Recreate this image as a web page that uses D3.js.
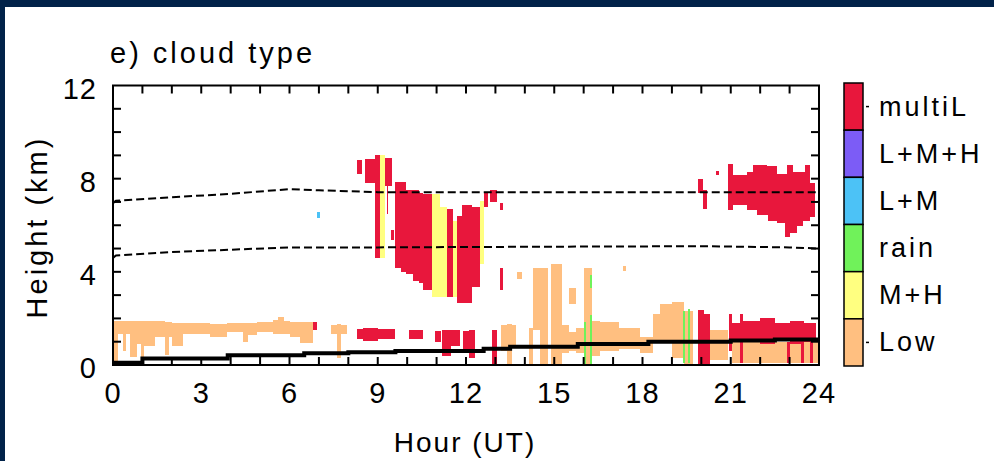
<!DOCTYPE html>
<html>
<head>
<meta charset="utf-8">
<script src="https://cdn.jsdelivr.net/npm/d3@7"></script>
<style>
  html, body { margin: 0; padding: 0; background: #012249; }
  svg { display: block; }
  text { font-family: "Liberation Sans", Arial, sans-serif; fill: #000; }
</style>
</head>
<body>
<svg id="chart" width="994" height="461"></svg>
<script>
// ---- cloud classes (legend order, top to bottom) ----
const classNames  = ["multiL", "L+M+H", "L+M", "rain", "M+H", "Low"];
const classColors = ["#e8173c", "#7c5cf6", "#4cc2f6", "#70f25a", "#ffff80", "#ffbf80"];

// ---- axis ticks ----
const hourLabels   = [0, 3, 6, 9, 12, 15, 18, 21, 24];
const heightLabels = [0, 4, 8, 12];

// ---- cloud patches: columns [hour, base km, top km]; final [hour] closes the patch ----
const lowPatches = [
  [[0,0.1,1.9],[0.17,1.35,1.9],[0.35,0.6,1.9],[0.45,1.35,1.9],[0.58,0.35,1.9],[0.8,0.9,1.9],
   [0.95,0.3,1.9],[1.05,0.8,1.9],[1.43,1.2,1.9],[1.77,0.45,1.85],[1.9,1.2,1.85],[2.0,0.8,1.8],
   [2.38,1.35,1.8],[3.3,1.2,1.75],[3.87,1.4,1.8],[4.42,1.0,1.8],[4.6,1.3,1.8],[4.9,1.4,1.85],
   [5.44,1.35,1.95],[5.6,1.35,2.05],[5.8,1.35,1.9],[6.0,1.2,1.85],[6.36,0.95,1.85],[6.8]],
  [[7.4,1.35,1.7],[7.62,0.3,1.75],[7.75,1.35,1.7],[7.95]],
  [[13.2,0.6,1.7],[13.4,0.0,1.75],[13.55,0.8,1.7],[13.7]],
  [[13.75,3.7,4.0],[13.9]],
  [[14.15,0.0,1.6],[14.28,1.5,4.15],[14.52,0.0,4.15],[14.8]],
  [[14.88,0.0,4.35],[15.27,0.5,1.7],[15.5,0.6,1.4],[15.75,0.5,1.6],[16.0,0.0,4.15],
   [16.3,0.4,1.9],[16.55,0.6,1.85],[17.2,0.7,1.6],[17.9,0.5,1.2],[18.35,1.0,2.2],
   [18.6,1.0,2.6],[19.0,0.3,2.7],[19.4,0.0,2.3],[19.7]],
  [[15.5,2.6,3.3],[15.75]],
  [[17.35,4.05,4.25],[17.45]],
  [[20.3,0.2,1.5],[20.9]],
  [[21.05,0.1,1.0],[23.95]]
];

const mhPatches = [
  [[9.07,4.6,9.0],[9.25]],
  [[10.85,2.9,7.35],[11.1,2.9,6.8],[11.35]],
  [[11.55,2.9,6.2],[11.7]],
  [[12.48,4.35,7.05],[12.6]]
];

const rainPatches = [
  [[16.0,0.0,1.85],[16.07]],
  [[16.2,0.0,2.15],[16.3]],
  [[16.2,3.3,3.85],[16.3]],
  [[19.37,0.1,2.3],[19.45]],
  [[19.55,0.1,2.4],[19.63]]
];

const lmPatches = [
  [[6.95,6.3,6.55],[7.05]]
];

const multiPatches = [
  // low-level layer, 7-13 UT
  [[6.8,1.5,1.85],[6.92]],
  [[8.3,1.1,1.55],[8.5,1.05,1.6],[9.0,1.1,1.55],[9.6]],
  [[10.05,1.1,1.5],[10.55]],
  [[10.95,1.0,1.45],[11.15]],
  [[11.2,0.4,1.5],[11.5,0.8,1.5],[11.8]],
  [[11.9,0.6,1.45],[12.1,0.3,1.5],[12.3]],
  [[12.9,0.0,1.5],[13.05]],
  [[13.15,3.2,4.15],[13.25]],
  // deep system, 8-13 UT
  [[8.3,8.2,8.8],[8.45]],
  [[8.55,7.8,8.85],[8.9,4.6,9.0],[9.07]],
  [[9.25,7.7,8.9],[9.3,6.5,8.9],[9.35,7.7,8.9],[9.5]],
  [[9.45,5.35,5.8],[9.55]],
  [[9.6,4.15,7.85],[9.8,4.0,7.85],[9.95,3.9,7.5],[10.2,3.6,7.5],[10.4,3.5,7.4],[10.55,3.2,7.35],[10.85]],
  [[11.35,2.9,6.7],[11.55]],
  [[11.7,2.65,6.4],[11.85,2.65,6.85],[12.2,3.35,6.8],[12.48]],
  [[12.6,6.8,7.4],[12.75]],
  [[12.8,7.0,7.5],[13.05]],
  [[13.15,6.65,6.95],[13.25]],
  // low-level layer, 20-24 UT
  [[19.9,0.0,2.35],[20.1,0.0,2.2],[20.3]],
  [[20.95,0.6,2.2],[21.05]],
  [[21.05,1.0,1.8],[21.3,0.9,1.9],[21.4,1.0,1.9],[22.0,0.9,2.0],[22.5,1.1,1.8],[23.0,0.9,1.9],[23.5,1.0,1.8],[23.9]],
  [[21.3,0.1,2.2],[21.4]],
  [[22.9,0.1,1.0],[23.0]],
  [[23.4,0.1,1.0],[23.5]],
  [[23.7,0.1,1.0],[23.8]],
  // upper layer, 20-24 UT
  [[19.9,7.4,8.0],[20.05,6.7,7.5],[20.2]],
  [[20.5,8.15,8.35],[20.6]],
  [[20.92,6.65,8.65],[21.08,6.85,8.15],[21.54,6.65,8.3],[21.71,6.65,8.3],[21.76,6.65,8.6],
   [21.88,6.45,8.6],[22.22,6.45,8.55],[22.27,6.2,8.55],[22.56,6.1,8.2],[22.84,5.5,8.2],
   [22.9,5.5,8.6],[23.01,5.65,8.6],[23.12,5.65,8.3],[23.24,5.95,8.3],[23.46,6.2,8.3],
   [23.52,6.2,8.6],[23.69,6.35,7.8],[23.86]]
];

// ---- dashed reference levels and thick surface-layer line: [hour, km] ----
const upperLevel = [[0,6.95],[0.1,7.05],[2,7.2],[4,7.35],[6,7.55],[7,7.5],[9,7.42],[12,7.42],[18,7.42],[24,7.42]];
const lowerLevel = [[0,4.6],[0.1,4.7],[2,4.85],[4,4.95],[6,5.05],[9,5.05],[15,5.08],[20,5.1],[23,5.05],[24,5.0]];
const layerTop   = [[0,0.1],[1.0,0.28],[3.9,0.42],[6.5,0.5],[8.0,0.55],[9.6,0.6],[12.6,0.7],[13.5,0.78],
                    [15.8,0.9],[18.2,1.0],[21.0,1.05],[22.5,1.1],[24,1.1]];

// ---- layout ----
const svg = d3.select("#chart");
const plot = { left: 113, right: 819, top: 85.5, bottom: 365 };

svg.append("rect").attr("x", 5).attr("y", 7).attr("width", 989).attr("height", 454).attr("fill", "#fff");

const x = d3.scaleLinear().domain([0, 24]).range([plot.left, plot.right]);
const y = d3.scaleLinear().domain([0, 12]).range([plot.bottom, plot.top]);

const clip = svg.append("clipPath").attr("id", "plotClip")
  .append("rect").attr("x", plot.left).attr("y", plot.top)
  .attr("width", plot.right - plot.left).attr("height", plot.bottom - plot.top);

const g = svg.append("g").attr("clip-path", "url(#plotClip)");

const area = d3.area()
  .x(d => x(d[0])).y0(d => y(d[1])).y1(d => y(d[2]))
  .curve(d3.curveStepAfter);

function closePatch(p) {
  const last = p[p.length - 1];
  const prev = p[p.length - 2];
  return p.slice(0, -1).concat([[last[0], prev[1], prev[2]]]);
}

function drawPatches(patches, color) {
  g.append("g").selectAll("path").data(patches).join("path")
    .attr("d", p => area(closePatch(p)))
    .attr("fill", color)
    .attr("shape-rendering", "crispEdges");
}

drawPatches(lowPatches,   classColors[5]);
drawPatches(mhPatches,    classColors[4]);
drawPatches(rainPatches,  classColors[3]);
drawPatches(lmPatches,    classColors[2]);
drawPatches(multiPatches, classColors[0]);

const line = d3.line().x(d => x(d[0])).y(d => y(d[1]));

[upperLevel, lowerLevel].forEach(lv => {
  g.append("path").attr("d", line(lv))
    .attr("fill", "none").attr("stroke", "#000")
    .attr("stroke-width", 2).attr("stroke-dasharray", "8,4");
});

g.append("path").attr("d", line.curve(d3.curveStepAfter)(layerTop))
  .attr("fill", "none").attr("stroke", "#000").attr("stroke-width", 4);

// ---- frame and inward ticks ----
const axes = svg.append("g").attr("stroke", "#000").attr("stroke-width", 2);
axes.append("rect")
  .attr("x", plot.left).attr("y", plot.top)
  .attr("width", plot.right - plot.left).attr("height", plot.bottom - plot.top)
  .attr("fill", "none");

const tickLen = 8;
d3.range(1, 24).forEach(h => {
  axes.append("line").attr("x1", x(h)).attr("x2", x(h)).attr("y1", plot.bottom).attr("y2", plot.bottom - tickLen);
  axes.append("line").attr("x1", x(h)).attr("x2", x(h)).attr("y1", plot.top).attr("y2", plot.top + tickLen);
});
d3.range(1, 12).forEach(k => {
  axes.append("line").attr("x1", plot.left).attr("x2", plot.left + tickLen).attr("y1", y(k)).attr("y2", y(k));
  axes.append("line").attr("x1", plot.right).attr("x2", plot.right - tickLen).attr("y1", y(k)).attr("y2", y(k));
});

// ---- labels ----
svg.append("g").selectAll("text").data(hourLabels).join("text")
  .attr("x", d => x(d)).attr("y", 403)
  .attr("text-anchor", "middle").attr("font-size", 29).attr("letter-spacing", 1)
  .text(d => d);

svg.append("g").selectAll("text").data(heightLabels).join("text")
  .attr("x", 97).attr("y", d => y(d) + 13)
  .attr("text-anchor", "end").attr("font-size", 29).attr("letter-spacing", 1)
  .text(d => d);

svg.append("text").attr("x", 465).attr("y", 452)
  .attr("text-anchor", "middle").attr("font-size", 28).attr("letter-spacing", 2)
  .text("Hour (UT)");

svg.append("text")
  .attr("transform", "translate(47,227) rotate(-90)")
  .attr("text-anchor", "middle").attr("font-size", 29).attr("letter-spacing", 3)
  .text("Height (km)");

svg.append("text").attr("x", 110).attr("y", 63)
  .attr("font-size", 29).attr("letter-spacing", 3)
  .text("e) cloud type");

// ---- colour bar legend ----
const bar = { x: 844, w: 19, top: 83, bottom: 366 };
const segH = (bar.bottom - bar.top) / classNames.length;
const leg = svg.append("g");
leg.selectAll("rect").data(classNames).join("rect")
  .attr("x", bar.x).attr("y", (d, i) => bar.top + i * segH)
  .attr("width", bar.w).attr("height", segH)
  .attr("fill", (d, i) => classColors[i])
  .attr("stroke", "#000").attr("stroke-width", 1.5);
leg.selectAll("text").data(classNames).join("text")
  .attr("x", 879).attr("y", (d, i) => bar.top + (i + 0.5) * segH + 9)
  .attr("font-size", 27).attr("letter-spacing", 3)
  .text(d => d);
[0, classNames.length - 1].forEach(i => {
  leg.append("line")
    .attr("x1", bar.x + bar.w + 3).attr("x2", bar.x + bar.w + 6)
    .attr("y1", bar.top + (i + 0.5) * segH).attr("y2", bar.top + (i + 0.5) * segH)
    .attr("stroke", "#000").attr("stroke-width", 1.5);
});
</script>
</body>
</html>
